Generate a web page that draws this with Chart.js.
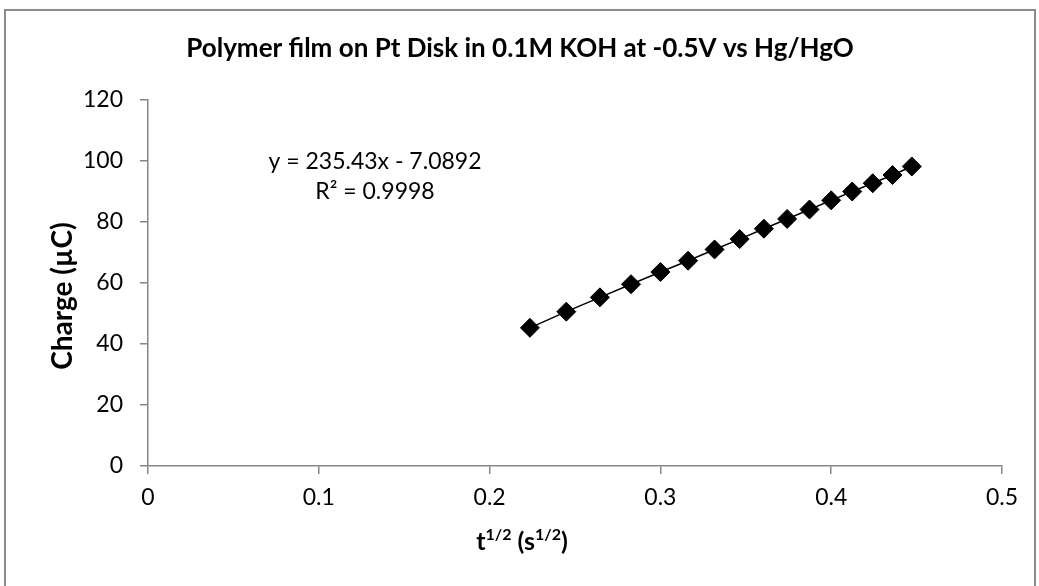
<!DOCTYPE html>
<html>
<head>
<meta charset="utf-8">
<script src="https://cdn.jsdelivr.net/npm/chart.js@4/dist/chart.umd.min.js"></script>
<style>
  html, body { margin: 0; padding: 0; background: #fff; }
  #wrap { position: relative; width: 1039px; height: 586px; }
</style>
</head>
<body>
<div id="wrap"><canvas id="chart" width="1039" height="586"></canvas></div>
<script>
// values
const sqrtTime = [0.2236, 0.2449, 0.2646, 0.2828, 0.3000, 0.3162, 0.3317, 0.3464,
                  0.3606, 0.3742, 0.3873, 0.4000, 0.4123, 0.4243, 0.4359, 0.4472];
const charge = [45.3, 50.6, 55.3, 59.6, 63.6, 67.3, 71.0, 74.4,
                77.8, 81.0, 84.1, 87.1, 90.0, 92.7, 95.4, 98.2];
const fitLines = ['y = 235.43x - 7.0892', 'R\u00b2 = 0.9998'];
const chartTitle = 'Polymer film on Pt Disk in 0.1M KOH at -0.5V vs Hg/HgO';
const yTitle = 'Charge (\u00b5C)';

const FONT = 'Lato, "Open Sans", sans-serif';
const AXIS_GREY = '#868686';

// frame, titles, equation text
const decorations = {
    id: 'decorations',
    beforeDraw(chart) {
        const ctx = chart.ctx;
        ctx.save();
        ctx.strokeStyle = '#8c8c8c';
        ctx.lineWidth = 2;
        ctx.strokeRect(5, 10, 1030, 590);
        ctx.restore();
    },
    afterDraw(chart) {
        const ctx = chart.ctx;
        const xs = chart.scales.x, ys = chart.scales.y;
        ctx.save();
        ctx.fillStyle = '#000';

        // chart title
        ctx.font = 'bold 26px ' + FONT;
        ctx.textAlign = 'center';
        ctx.textBaseline = 'alphabetic';
        ctx.fillText(chartTitle, 520, 57);

        // equation + R squared
        ctx.font = '23px ' + FONT;
        const ex = xs.getPixelForValue(0.1329);
        ctx.fillText(fitLines[0], ex, ys.getPixelForValue(97.5));
        ctx.fillText(fitLines[1], ex, ys.getPixelForValue(87.5));

        // y axis title
        ctx.save();
        ctx.translate(72, 296);
        ctx.rotate(-Math.PI / 2);
        ctx.font = 'bold 28px ' + FONT;
        ctx.textAlign = 'center';
        ctx.fillText(yTitle, 0, 0);
        ctx.restore();

        // x axis title with superscripts: t^1/2 (s^1/2)
        const parts = [
            ['t', false], ['1/2', true], [' (s', false], ['1/2', true], [')', false]
        ];
        const big = 'bold 25px ' + FONT, small = 'bold 16px ' + FONT;
        let total = 0;
        parts.forEach(p => { ctx.font = p[1] ? small : big; total += ctx.measureText(p[0]).width; });
        let cx = 522 - total / 2;
        ctx.textAlign = 'left';
        parts.forEach(p => {
            ctx.font = p[1] ? small : big;
            ctx.fillText(p[0], cx, p[1] ? 540 : 550);
            cx += ctx.measureText(p[0]).width;
        });
        ctx.restore();
    }
};

new Chart(document.getElementById('chart'), {
    type: 'scatter',
    data: {
        datasets: [{
            data: sqrtTime.map((x, i) => ({ x: x, y: charge[i] })),
            showLine: true,
            borderColor: '#000',
            borderWidth: 1.5,
            pointStyle: 'rectRot',
            pointRadius: 9.5,
            pointBackgroundColor: '#000',
            pointBorderColor: '#000',
            pointBorderWidth: 1
        }]
    },
    options: {
        responsive: false,
        animation: false,
        layout: { padding: { left: 0, top: 100, right: 37, bottom: 80 } },
        plugins: { legend: { display: false }, tooltip: { enabled: false } },
        scales: {
            x: {
                type: 'linear',
                min: 0, max: 0.5,
                afterFit: s => { s.height = 40; },
                ticks: { stepSize: 0.1, color: '#000', padding: 10, font: { family: FONT, size: 23 } },
                grid: { drawOnChartArea: false, tickLength: 8, color: AXIS_GREY, lineWidth: 1.5 },
                border: { color: AXIS_GREY, width: 1.5 }
            },
            y: {
                min: 0, max: 120,
                afterFit: s => { s.width = 148; },
                ticks: { stepSize: 20, color: '#000', padding: 17, font: { family: FONT, size: 23 } },
                grid: { drawOnChartArea: false, tickLength: 8, color: AXIS_GREY, lineWidth: 1.5 },
                border: { color: AXIS_GREY, width: 1.5 }
            }
        }
    },
    plugins: [decorations]
});
</script>
</body>
</html>
